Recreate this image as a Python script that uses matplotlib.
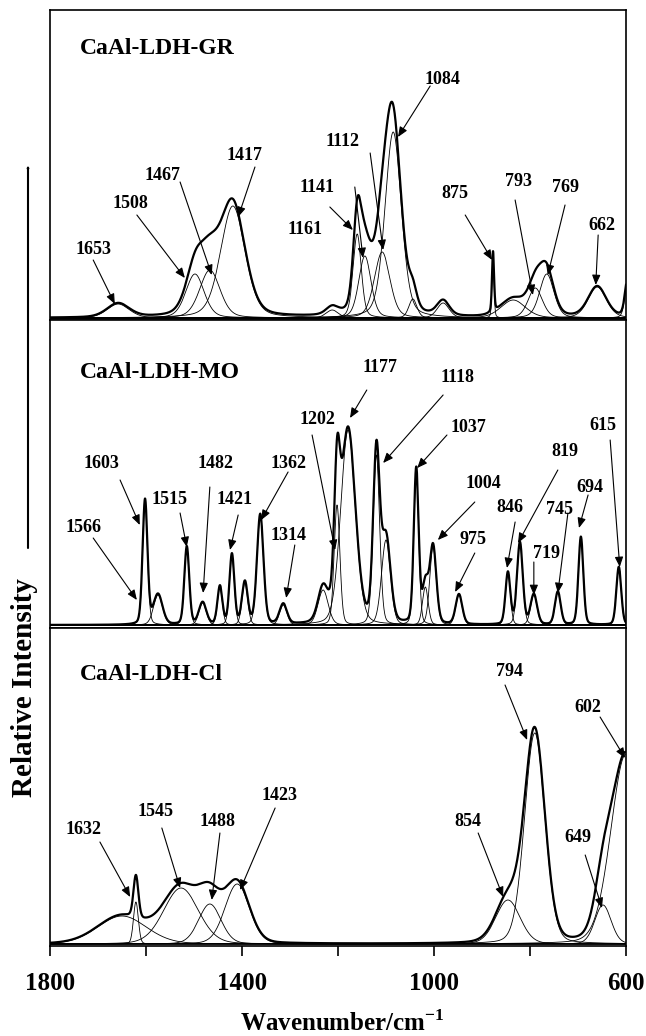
import numpy as np
import matplotlib
matplotlib.use("Agg")
import matplotlib.pyplot as plt

plt.rcParams['font.family'] = ['Liberation Serif', 'DejaVu Serif']
plt.rcParams['font.weight'] = 'bold'
plt.rcParams['mathtext.fontset'] = 'custom'
plt.rcParams['mathtext.rm'] = 'Liberation Serif:bold'
plt.rcParams['mathtext.bf'] = 'Liberation Serif:bold'

# ---------------- data: fitted bands (centre cm-1, height, FWHM) ----------------
gr_centers = [1658, 1498, 1467, 1419, 1212, 1160, 1144, 1108, 1085, 1044, 981, 877, 835, 789, 765, 660, 596]
gr_heights = [14, 44, 48, 112, 8, 84, 62, 66, 186, 19, 15, 60, 18, 30, 44, 31, 40]
gr_widths = [55, 45, 50, 60, 30, 20, 30, 38, 40, 20, 30, 5, 60, 35, 35, 45, 14]

mo_centers = [1602, 1575, 1515, 1482, 1446, 1421, 1394, 1362, 1314, 1231, 1202, 1179, 1120, 1100,
              1037, 1018, 1002, 948, 846, 821, 792, 742, 694, 615]
mo_heights = [125, 30, 78, 22, 38, 70, 42, 110, 20, 35, 120, 195, 170, 85,
              155, 38, 78, 30, 52, 82, 30, 33, 88, 58]
mo_widths = [12, 22, 12, 18, 12, 12, 14, 16, 18, 25, 14, 36, 16, 22,
             12, 14, 16, 16, 12, 14, 16, 14, 12, 12]

cl_centers = [1650, 1621, 1527, 1467, 1410, 846, 790, 648, 600]
cl_heights = [28, 42, 56, 40, 60, 44, 211, 39, 190]
cl_widths = [120, 12, 85, 55, 60, 60, 50, 40, 74]

panel_names = ['CaAl-LDH-GR', 'CaAl-LDH-MO', 'CaAl-LDH-Cl']
panel_eta = [0.3, 0.2, 0.15]

# annotations: label, text (wn, y), arrow start (wn, y), arrow tip (wn, y)
gr_labels = ['1653', '1508', '1467', '1417', '1141', '1161', '1112', '1084', '875', '793', '769', '662']
gr_text = [(1710, 68), (1633, 115), (1565, 143), (1394, 163), (1244, 131), (1269, 88), (1190, 176),
           (983, 238), (956, 125), (825, 136), (727, 130), (650, 93)]
gr_start = [(1710, 58), (1619, 103), (1529, 136), (1373, 151), (1165, 131), (1217, 111), (1133, 165),
            (1008, 232), (935, 103), (831, 118), (727, 113), (658, 83)]
gr_tip = [(1665, 14), (1519, 40), (1463, 43), (1408, 101), (1148, 60), (1169, 88), (1106, 68),
          (1075, 181), (879, 58), (794, 23), (763, 43), (663, 33)]

mo_labels = ['1603', '1566', '1515', '1482', '1421', '1362', '1314', '1202', '1177', '1118', '1037',
             '1004', '975', '846', '819', '719', '745', '694', '615']
mo_text = [(1692, 162), (1731, 98), (1550, 125), (1456, 162), (1415, 125), (1304, 162), (1304, 90),
           (1242, 205), (1113, 257), (950, 247), (929, 198), (898, 142), (919, 85), (842, 117),
           (727, 173), (765, 72), (738, 115), (675, 137), (648, 200)]
mo_start = [(1654, 145), (1710, 87), (1529, 112), (1467, 138), (1408, 110), (1304, 153), (1290, 80),
            (1254, 190), (1140, 235), (981, 230), (973, 190), (915, 123), (915, 72), (831, 103),
            (742, 155), (792, 63), (721, 112), (679, 130), (633, 185)]
mo_tip = [(1613, 100), (1619, 25), (1515, 78), (1481, 32), (1425, 75), (1360, 105), (1308, 27),
          (1206, 75), (1175, 207), (1106, 162), (1035, 157), (992, 85), (956, 33), (848, 57),
          (825, 82), (792, 30), (742, 32), (698, 97), (613, 58)]

cl_labels = ['1632', '1545', '1488', '1423', '794', '602', '854', '649']
cl_text = [(1731, 114), (1581, 132), (1450, 122), (1321, 149), (842, 272), (679, 236), (929, 122), (700, 107)]
cl_start = [(1696, 102), (1567, 116), (1446, 111), (1331, 136), (852, 259), (654, 227), (908, 111), (685, 89)]
cl_tip = [(1633, 47), (1529, 56), (1463, 44), (1404, 54), (806, 204), (602, 186), (856, 47), (650, 36)]

x_major = [1800, 1400, 1000, 600]
x_minor = [1600, 1200, 800]

# ---------------- drawing ----------------
def band(x, c, h, w, eta):
    u = (x - c) / w
    g = np.exp(-4 * np.log(2) * u ** 2)
    lor = 1.0 / (1.0 + 4 * u ** 2)
    return h * ((1 - eta) * g + eta * lor)

fig = plt.figure(figsize=(6.46, 10.36), dpi=100)
W, H = 646, 1036
left = 50 / W
width = 576 / W
panels = [
    (10, 320, (-2, 308)),
    (320, 628, (-3, 305)),
    (628, 946, (-2, 316)),
]
datasets = [
    (gr_centers, gr_heights, gr_widths, gr_labels, gr_text, gr_start, gr_tip),
    (mo_centers, mo_heights, mo_widths, mo_labels, mo_text, mo_start, mo_tip),
    (cl_centers, cl_heights, cl_widths, cl_labels, cl_text, cl_start, cl_tip),
]

x = np.linspace(600, 1800, 4801)
for i, ((ytop, ybot, ylim), ds) in enumerate(zip(panels, datasets)):
    ax = fig.add_axes([left, 1 - ybot / H, width, (ybot - ytop) / H])
    cs, hs, ws, labs, txts, starts, tips = ds
    eta = panel_eta[i]
    total = np.zeros_like(x)
    for c, h, w in zip(cs, hs, ws):
        y = band(x, c, h, w, eta)
        total += y
        ax.plot(x, y, color='black', lw=0.6)
    ax.plot(x, total, color='black', lw=1.6)
    for lab, t, s, tp in zip(labs, txts, starts, tips):
        ax.text(t[0], t[1], lab, ha='center', va='center', fontsize=13, fontweight='bold')
        ax.annotate('', xy=tp, xytext=s,
                    arrowprops=dict(arrowstyle='-|>,head_length=0.6,head_width=0.25',
                                    color='black', lw=0.8, shrinkA=0, shrinkB=0))
    ax.text(1737, ylim[1] - {0: 39, 1: 53, 2: 47}[i], panel_names[i], ha='left', va='center',
            fontsize=17, fontweight='bold')
    ax.set_xlim(1800, 600)
    ax.set_ylim(*ylim)
    ax.set_yticks([])
    for sp in ax.spines.values():
        sp.set_linewidth(1.2)
    if i < 2:
        ax.set_xticks([])
    else:
        ax.set_xticks(x_major)
        ax.set_xticklabels([str(v) for v in x_major])
        ax.set_xticks(x_minor, minor=True)
        ax.tick_params(axis='x', which='both', direction='out', length=7, width=1.2)
        ax.tick_params(axis='x', which='major', labelsize=18, pad=12)
        for lbl in ax.get_xticklabels():
            lbl.set_fontweight('bold')

fig.text(342 / W, 1 - 1023 / H, r'Wavenumber/cm$^{\mathbf{-1}}$', ha='center', va='center',
         fontsize=18, fontweight='bold')
fig.text(25 / W, 1 - 688 / H, 'Relative Intensity', rotation=90, ha='center', va='center',
         fontsize=21, fontweight='bold')
fig.add_artist(matplotlib.patches.FancyArrowPatch(
    (28 / W, 1 - 548 / H), (28 / W, 1 - 165 / H), transform=fig.transFigure,
    arrowstyle='-|>,head_length=0.6,head_width=0.25', color='black', lw=1.5,
    shrinkA=0, shrinkB=0))

fig.savefig('out.png', dpi=100, facecolor='white')
